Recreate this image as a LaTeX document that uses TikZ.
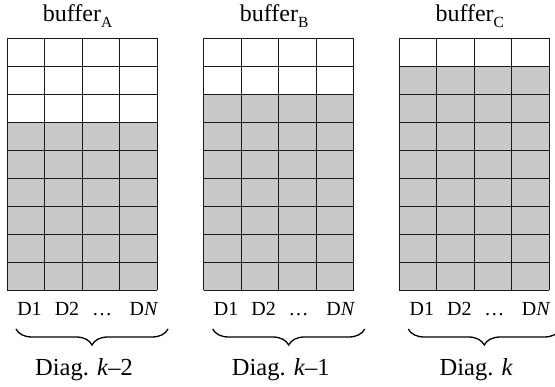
\documentclass[tikz,border=0pt]{standalone}
\usepackage{fontspec}
\setmainfont{Liberation Serif}
\usetikzlibrary{decorations.pathreplacing}
\definecolor{cellgray}{HTML}{C8C9CA}
\tikzset{
  gridline/.style={draw=black!90, line width=1pt},
  buflabel/.style={anchor=base, inner sep=0pt, font=\fontsize{24}{24}\selectfont},
  difflabel/.style={anchor=base, inner sep=0pt, font=\fontsize{20}{20}\selectfont},
  diaglabel/.style={anchor=base, inner sep=0pt, font=\fontsize{24.5}{24.5}\selectfont},
  bracestyle/.style={decorate, decoration={brace, mirror, amplitude=16pt}, line width=1.3pt},
}
% #1 left edge, #2 top of the shaded part, #3 name, #4 subscript, #5 diagonal caption
\newcommand\bufferblock[5]{%
  \fill[cellgray] (#1,#2) rectangle (#1+150,290.3);
  \foreach \i in {0,...,4} \draw[gridline] (#1+\i*37.5,38.3) -- (#1+\i*37.5,290.3);
  \foreach \j in {0,...,9} \draw[gridline] (#1,38.3+\j*28) -- (#1+150,38.3+\j*28);
  \node[buflabel] (buf#3) at (#1+70.5,22) {buffer\raisebox{-0.23em}{\fontsize{15.5}{15.5}\selectfont #4}};
  \node[difflabel] (d1#3) at (#1+22.5,315.7) {D1};
  \node[difflabel] (d2#3) at (#1+60,315.7) {D2};
  \node[difflabel] (dots#3) at (#1+95,315.7) {…};
  \node[difflabel] (dn#3) at (#1+137,315.7) {D\textit{N}};
  \coordinate (bl#3) at (#1+9,329);
  \coordinate (br#3) at (#1+161,329);
  \draw[bracestyle] (bl#3) -- (br#3);
  \node[diaglabel] (diag#3) at (#1+77,376) {#5};
}
\begin{document}
\begin{tikzpicture}[x=1pt, y=-1pt]
  \useasboundingbox (0,0) rectangle (555,387);
  \bufferblock{7}{122.3}{a}{A}{Diag. \textit{k}–2}
  \bufferblock{203.7}{94.3}{b}{B}{Diag. \textit{k}–1}
  \bufferblock{399.3}{66.3}{c}{C}{Diag. \textit{k}}
\end{tikzpicture}
\end{document}
